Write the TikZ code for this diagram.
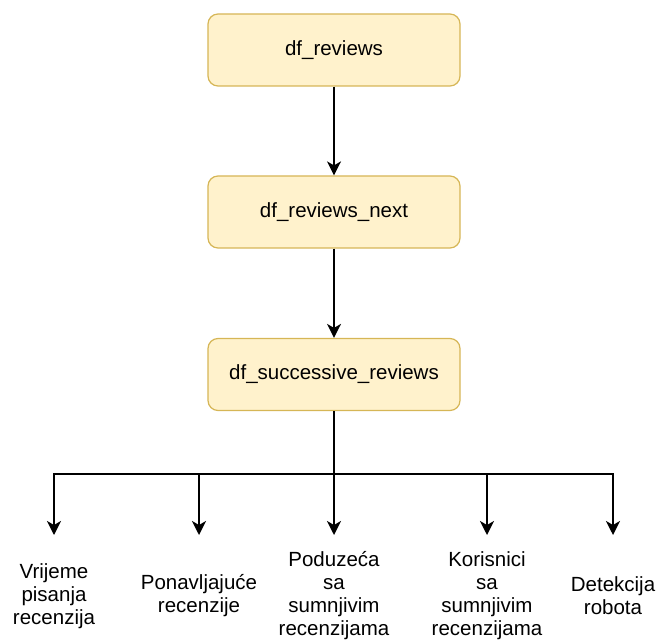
\documentclass[tikz,border=0pt]{standalone}
\usepackage{fontspec}
\setmainfont{Liberation Sans}
\usepackage{tikz}
\usetikzlibrary{arrows.meta, positioning}

\definecolor{boxfill}{HTML}{FFF2CC}
\definecolor{boxline}{HTML}{D6B656}

\begin{document}
\begin{tikzpicture}[x=1pt, y=-1pt,
    font=\fontsize{20.5}{23}\selectfont,
    dfbox/.style={draw=boxline, fill=boxfill, line width=1.2pt, rounded corners=10pt,
        minimum width=252pt, minimum height=72pt, inner sep=0pt},
    lbl/.style={align=center, inner sep=0pt},
    arr/.style={line width=1.8pt, -{Stealth[length=14pt, width=14pt, inset=4pt]}}]
    \useasboundingbox (0,0) rectangle (658,644);
    % tri tablice jedna ispod druge
    \node[dfbox] (B1) at (334,50) {df\_reviews};
    \node[dfbox] (B2) at (334,212) {df\_reviews\_next};
    \node[dfbox] (B3) at (334,374.5) {df\_successive\_reviews};
    \draw[arr] (B1) -- (B2);
    \draw[arr] (B2) -- (B3);
    % grananje prema analizama
    \coordinate (bus) at (334,474);
    \foreach \x/\txt [count=\i] in {54/{Vrijeme\\pisanja\\recenzija},
        199/{Ponavljajuće\\recenzije},
        334/{Poduzeća\\sa\\sumnjivim\\recenzijama},
        487/{Korisnici\\sa\\sumnjivim\\recenzijama},
        613/{Detekcija\\robota}} {
        \coordinate (T\i) at (\x,535);
        \node[lbl] (L\i) at (\x,596) {\txt};
        \draw[arr] (B3.south) -- (bus) -| (T\i);
    }
\end{tikzpicture}
\end{document}
